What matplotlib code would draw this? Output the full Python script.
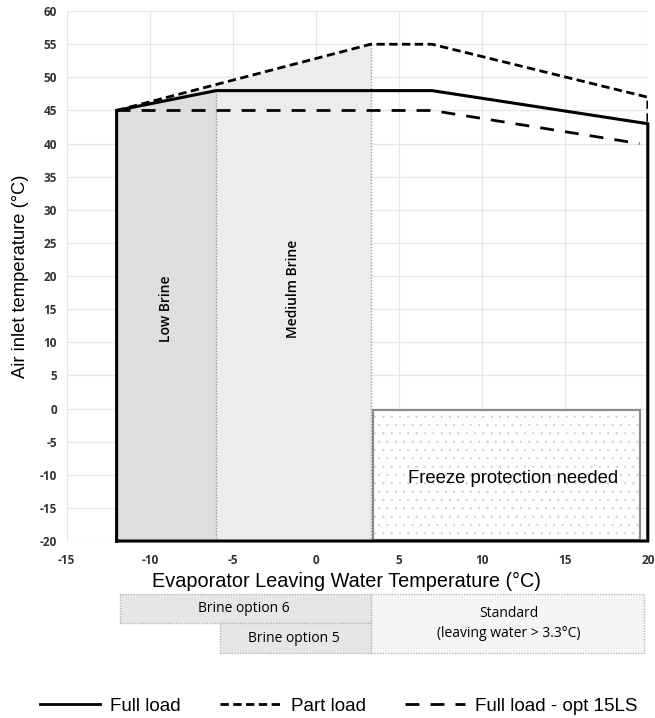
import matplotlib
matplotlib.use('Agg')
import matplotlib.pyplot as plt
import matplotlib.transforms as mtransforms
from matplotlib.patches import Rectangle
from matplotlib.lines import Line2D

plt.rcParams['axes.unicode_minus'] = False
plt.rcParams['hatch.linewidth'] = 0.4

# Operating envelope data
full_x = [-12, -12, -6, 7, 20, 20, -12]
full_y = [-20, 45, 48, 48, 43, -20, -20]
part_x = [-12, 3.3, 7, 20, 20]
part_y = [45, 55, 55, 47, 43]
opt15_x = [-12, 7, 19.5]
opt15_y = [45, 45, 40]

# Brine zones
low_brine_x = [-12, -6]
low_brine_top = [45, 48]
med_brine_x = [-12, 3.3]
med_brine_top = [45, 55]

# Boxes below the axis (x range in data units, label)
options = [(-12, 3.3, 'Brine option 6'), (-6, 3.3, 'Brine option 5')]
standard = (3.3, 20, 'Standard\n(leaving water > 3.3°C)')

fig = plt.figure(figsize=(6.55, 7.18), dpi=100)
ax = fig.add_axes([0.102, 0.2465, 0.887, 0.738])

ax.set_xlim(-15, 20)
ax.set_ylim(-20, 60)
ax.set_xticks(range(-15, 21, 5))
ax.set_yticks(range(-20, 61, 5))
ax.grid(True, color='#e6e6e6', lw=0.9)
ax.set_axisbelow(True)
for s in ax.spines.values():
    s.set_visible(False)
ax.tick_params(length=0, labelsize=8.5)
ax.tick_params(axis='x', pad=9)
ax.tick_params(axis='y', pad=7)
for lab in ax.get_xticklabels() + ax.get_yticklabels():
    lab.set_fontweight('bold')
    lab.set_family('Open Sans')
    lab.set_color('#333333')

# shaded brine areas
ax.fill_between(med_brine_x, -20, med_brine_top, color='#ececec', lw=0, zorder=1)
ax.fill_between(low_brine_x, -20, low_brine_top, color='#dedede', lw=0, zorder=1)
ax.plot([-6, -6], [-20, 48], color='#999999', ls=(0, (1, 1.2)), lw=1, zorder=2)
ax.plot([3.3, 3.3], [-20, 55], color='#999999', ls=(0, (1, 1.2)), lw=1, zorder=2)

ax.text(-9, 15, 'Low Brine', rotation=90, ha='center', va='center', fontsize=10,
        fontweight='semibold', family='Open Sans')
ax.text(-1.4, 18, 'Mediulm Brine', rotation=90, ha='center', va='center', fontsize=10,
        fontweight='semibold', family='Open Sans')

# freeze protection box: dotted fill + grey border
ax.add_patch(Rectangle((3.45, -19.8), 16.1, 19.6, facecolor='white', edgecolor='#cfcfcf',
                       lw=0, hatch='..', zorder=2))
ax.add_patch(Rectangle((3.45, -19.8), 16.1, 19.6, facecolor='none', edgecolor='#8c8c8c',
                       lw=1.6, zorder=3))
ax.text(11.9, -10.6, 'Freeze protection needed', ha='center', va='center',
        fontsize=13.3, family='Liberation Sans', zorder=3)

# envelope lines
ax.plot(full_x, full_y, color='black', lw=2.2, zorder=4, solid_joinstyle='miter',
        clip_on=False)
ax.plot(part_x, part_y, color='black', lw=2, ls=(0, (3, 1.6)), zorder=4)
ax.plot(opt15_x, opt15_y, color='black', lw=2, ls=(0, (5, 4)), zorder=4)

ax.set_xlabel('Evaporator Leaving Water Temperature (°C)', fontsize=14.3,
              family='Liberation Sans')
ax.xaxis.set_label_coords(0.481, -0.058)
ax.set_ylabel('Air inlet temperature (°C)', fontsize=13.2, family='Liberation Sans',
              labelpad=8)

# option boxes below the axes
trans = mtransforms.blended_transform_factory(ax.transData, fig.transFigure)
y_top = 1 - 594 / 718
y_mid = 1 - 623 / 718
y_bot = 1 - 653 / 718
for i, (x0, x1, txt) in enumerate(options):
    yb = y_mid if i == 0 else y_bot
    yt = y_top if i == 0 else y_mid
    r = Rectangle((x0 + 0.2, yb), x1 - x0 - 0.2, yt - yb, transform=trans, clip_on=False,
                  facecolor='#e6e6e6', edgecolor='#b5b5b5', lw=1, ls=(0, (1, 1)))
    fig.add_artist(r)
    fig.text((x0 + x1) / 2, (yb + yt) / 2, txt, transform=trans, ha='center',
             va='center', fontsize=10, family='Open Sans')
x0, x1, txt = standard
r = Rectangle((x0, y_bot), x1 - x0 - 0.2, y_top - y_bot, transform=trans, clip_on=False,
              facecolor='#f5f5f5', edgecolor='#b5b5b5', lw=1, ls=(0, (1, 1)))
fig.add_artist(r)
fig.text((x0 + x1) / 2, (y_top + y_bot) / 2, txt, transform=trans, ha='center',
         va='center', fontsize=10, family='Open Sans', linespacing=1.45)

# legend
handles = [Line2D([], [], color='black', lw=2),
           Line2D([], [], color='black', lw=2, ls=(0, (3, 1.6))),
           Line2D([], [], color='black', lw=2, ls=(0, (5, 4)))]
fig.legend(handles, ['Full load', 'Part load', 'Full load - opt 15LS'],
           loc='center left', bbox_to_anchor=(40 / 655, 1 - 706 / 718), ncol=3,
           frameon=False, borderpad=0, borderaxespad=0,
           handlelength=3.2, handletextpad=0.55, columnspacing=2.1,
           prop={'family': 'Liberation Sans', 'size': 13.5})

fig.savefig('out.png', dpi=100)
